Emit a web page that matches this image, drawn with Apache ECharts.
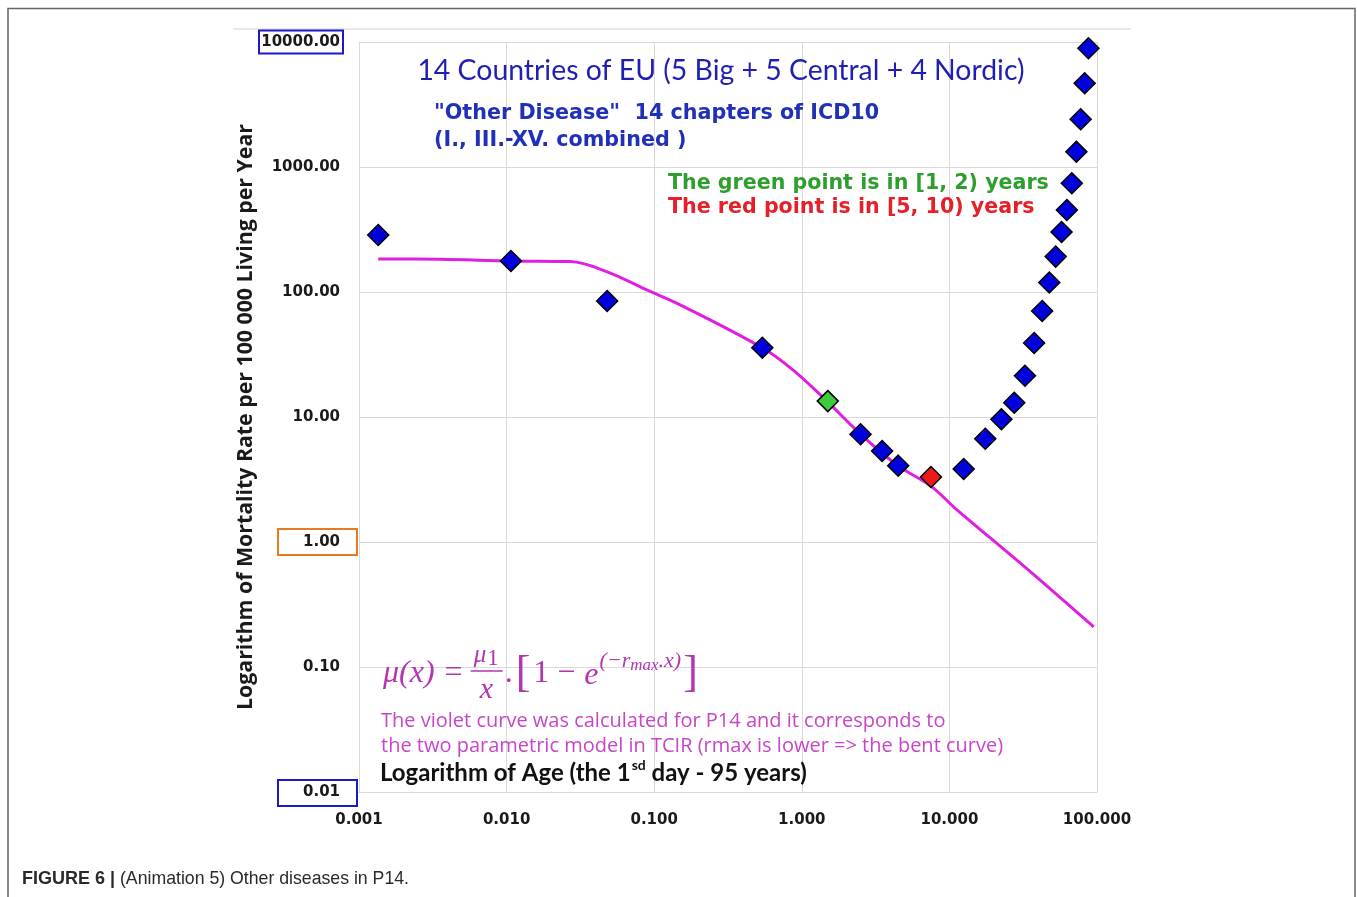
<!DOCTYPE html>
<html><head><meta charset="utf-8">
<script src="https://cdn.jsdelivr.net/npm/echarts@6/dist/echarts.min.js"></script>
<style>html,body{margin:0;padding:0;background:#fff;} #c{width:1357px;height:897px;}</style>
</head><body><div id="c"></div>
<script>
// ---- data ----
const xTickLabels = ['0.001', '0.010', '0.100', '1.000', '10.000', '100.000'];
const yTickLabels = ['0.01', '0.10', '1.00', '10.00', '100.00', '1000.00', '10000.00'];

const pointAges  = [0.00135, 0.0107, 0.048, 0.54, 1.5, 2.5, 3.5, 4.5, 7.5, 12.5, 17.5, 22.5, 27.5, 32.5, 37.5, 42.5, 47.5, 52.5, 57.5, 62.5, 67.5, 72.5, 77.5, 82.5, 87.5];
const pointRates = [286, 177, 84.7, 35.8, 13.4, 7.28, 5.35, 4.08, 3.31, 3.84, 6.70, 9.59, 13.0, 21.4, 39.1, 70.5, 119, 192, 302, 453, 741, 1325, 2410, 4674, 8905];
const greenIndex = 4;   // [1, 2) years
const redIndex = 8;     // [5, 10) years

const curveAges  = [0.00135, 0.0035, 0.0108, 0.027, 0.048, 0.089, 0.15, 0.54, 0.87, 1.48, 2.5, 4.45, 7.5, 10.9, 33, 95];
const curveRates = [184, 183, 177, 175, 145, 104, 79, 35.8, 23.8, 13.4, 7.3, 4.1, 2.8, 1.87, 0.62, 0.209];

const titleText = '14 Countries of EU (5 Big + 5 Central + 4 Nordic)';
const subLine1 = '"Other Disease"  14 chapters of ICD10';
const subLine2 = '(I., III.-XV. combined )';
const greenNote = 'The green point is in [1, 2) years';
const redNote = 'The red point is in [5, 10) years';
const noteLine1 = 'The violet curve was calculated for P14 and it corresponds to';
const noteLine2 = 'the two parametric model in TCIR (rmax is lower => the bent curve)';
const yName = 'Logarithm of Mortality Rate per 100 000 Living per Year';
const caption1 = 'FIGURE 6 |';
const caption2 = ' (Animation 5) Other diseases in P14.';

// ---- chart ----
const chart = echarts.init(document.getElementById('c'), null, {renderer: 'canvas'});
const gridColor = '#d9d9d9';
const lblFont = {fontFamily: 'DejaVu Sans', fontWeight: 'bold', fontSize: 15, color: '#1a1a1a'};

const points = pointAges.map((a, i) => ({
  value: [a, pointRates[i]],
  itemStyle: {color: i === greenIndex ? '#3ccc3c' : (i === redIndex ? '#ee1a1a' : '#0000dc')}
}));

chart.setOption({
  backgroundColor: '#ffffff',
  animation: false,
  grid: {left: 359, right: 260, top: 42, bottom: 105, containLabel: false},
  xAxis: {
    type: 'log', logBase: 10, min: 0.001, max: 100,
    axisLine: {show: true, lineStyle: {color: gridColor}},
    axisTick: {show: false},
    minorTick: {show: false},
    splitLine: {show: true, lineStyle: {color: gridColor, width: 1}},
    axisLabel: Object.assign({margin: 21, formatter: v => xTickLabels[Math.round(Math.log10(v)) + 3]}, lblFont)
  },
  yAxis: {
    type: 'log', logBase: 10, min: 0.01, max: 10000,
    name: yName, nameLocation: 'middle', nameRotate: 90, nameGap: 103, nameMoveOverlap: false,
    nameTextStyle: {fontFamily: 'Open Sans', fontWeight: 'bold', fontSize: 21.3, color: '#1a1a1a'},
    axisLine: {show: true, lineStyle: {color: gridColor}},
    axisTick: {show: false},
    splitLine: {show: true, lineStyle: {color: gridColor, width: 1}},
    axisLabel: Object.assign({margin: 19, formatter: v => yTickLabels[Math.round(Math.log10(v)) + 2]}, lblFont)
  },
  series: [
    {
      type: 'line', data: curveAges.map((a, i) => [a, curveRates[i]]),
      smooth: 0.35, showSymbol: false, z: 2,
      lineStyle: {color: '#e01fe0', width: 3}
    },
    {
      type: 'scatter', data: points, symbol: 'diamond', symbolSize: [21, 21], z: 3,
      itemStyle: {borderColor: '#000', borderWidth: 1.5, opacity: 1}
    }
  ]
});

// ---- decorations & texts ----
const mctx = document.createElement('canvas').getContext('2d');
function tw(text, font) { mctx.font = font; return mctx.measureText(text).width; }

const py = v => chart.convertToPixel({yAxisIndex: 0}, v);
const g = [];

// outer frame and top line
g.push({type: 'polyline', shape: {points: [[8, 897], [8, 8.5], [1355, 8.5], [1355, 897]]}, style: {stroke: '#666', lineWidth: 1.5, fill: null}});
g.push({type: 'line', shape: {x1: 233, y1: 29, x2: 1131, y2: 29}, style: {stroke: '#e2e2e2', lineWidth: 1.5}});

// tick label boxes
const y1e4 = py(10000), y1 = py(1), y001 = py(0.01);
g.push({type: 'rect', shape: {x: 259, y: y1e4 - 11.5, width: 84, height: 23}, style: {stroke: '#1a1acc', lineWidth: 2, fill: null}});
g.push({type: 'rect', shape: {x: 278, y: y1 - 13, width: 79, height: 26}, style: {stroke: '#e87a22', lineWidth: 2, fill: null}});
g.push({type: 'rect', shape: {x: 278, y: y001 - 12, width: 79, height: 26}, style: {stroke: '#1a1acc', lineWidth: 2, fill: null}});

// titles
g.push({type: 'text', x: 721, y: 71, style: {text: titleText, font: '28.4px Lato', fill: '#1f1fb4', align: 'center', verticalAlign: 'middle'}});
g.push({type: 'text', x: 434, y: 114, style: {text: subLine1, font: 'bold 20.7px "DejaVu Sans"', fill: '#2030b8', align: 'left', verticalAlign: 'middle'}});
g.push({type: 'text', x: 434, y: 141, style: {text: subLine2, font: 'bold 20.7px "DejaVu Sans"', fill: '#2030b8', align: 'left', verticalAlign: 'middle'}});
g.push({type: 'text', x: 668, y: 184, style: {text: greenNote, font: 'bold 20.6px "DejaVu Sans"', fill: '#2e9e2e', align: 'left', verticalAlign: 'middle'}});
g.push({type: 'text', x: 668, y: 208, style: {text: redNote, font: 'bold 20.6px "DejaVu Sans"', fill: '#e52028', align: 'left', verticalAlign: 'middle'}});

// notes
g.push({type: 'text', x: 381, y: 721, style: {text: noteLine1, font: '20px "Open Sans"', fill: '#c845c8', align: 'left', verticalAlign: 'middle'}});
g.push({type: 'text', x: 381, y: 746, style: {text: noteLine2, font: '20px "Open Sans"', fill: '#c845c8', align: 'left', verticalAlign: 'middle'}});

// x axis name with superscript
(function () {
  const f = 'bold 24px Lato', fs = 'bold 14px Lato';
  const a = 'Logarithm of Age (the 1', s = 'sd', b = ' day - 95 years)';
  let x = 380;
  g.push({type: 'text', x: x, y: 773, style: {text: a, font: f, fill: '#111', align: 'left', verticalAlign: 'middle'}});
  x += tw(a, f) + 1;
  g.push({type: 'text', x: x, y: 765, style: {text: s, font: fs, fill: '#111', align: 'left', verticalAlign: 'middle'}});
  x += tw(s, fs);
  g.push({type: 'text', x: x, y: 773, style: {text: b, font: f, fill: '#111', align: 'left', verticalAlign: 'middle'}});
})();

// formula
(function () {
  const col = '#b435b4';
  const S = 'px "Liberation Serif"';
  const fi = 'italic 32' + S, fn = '32' + S;
  let x = 383; const yb = 674;
  const put = (t, font, xx, yy) => g.push({type: 'text', x: xx, y: yy, style: {text: t, font: font, fill: col, align: 'left', verticalAlign: 'middle'}});
  put('μ(x)', fi, x, yb); x += tw('μ(x)', fi) + 10;
  put('=', fn, x, yb); x += tw('=', fn) + 8;
  // fraction
  const fx0 = x, fw = 32;
  put('μ', 'italic 25' + S, fx0 + 3, 655);
  put('1', '23' + S, fx0 + 3 + tw('μ', 'italic 25' + S) + 1, 659);
  g.push({type: 'line', shape: {x1: fx0, y1: 671, x2: fx0 + fw, y2: 671}, style: {stroke: col, lineWidth: 1.5}});
  put('x', 'italic 30' + S, fx0 + 9, 690);
  x = fx0 + fw + 2;
  put('.', fn, x, yb); x += tw('.', fn) + 3;
  put('[', '44' + S, x, yb); x += tw('[', '44' + S) + 3;
  put('1 − ', fn, x, yb); x += tw('1 − ', fn) + 1;
  put('e', fi, x, yb + 2); x += tw('e', fi) + 1;
  put('(−r', 'italic 22' + S, x, 661); x += tw('(−r', 'italic 22' + S);
  put('max', 'italic 17' + S, x, 666); x += tw('max', 'italic 17' + S);
  put('.x)', 'italic 22' + S, x, 661); x += tw('.x)', 'italic 22' + S) + 2;
  put(']', '44' + S, x, yb);
})();

// caption
(function () {
  const fb = 'bold 18px "Liberation Sans"', fr = '17.7px "Liberation Sans"';
  g.push({type: 'text', x: 22, y: 879, style: {text: caption1, font: fb, fill: '#2a2a2a', align: 'left', verticalAlign: 'middle'}});
  g.push({type: 'text', x: 22 + tw(caption1, fb), y: 879, style: {text: caption2, font: fr, fill: '#2a2a2a', align: 'left', verticalAlign: 'middle'}});
})();

chart.setOption({graphic: {elements: g}});
</script>
</body></html>
